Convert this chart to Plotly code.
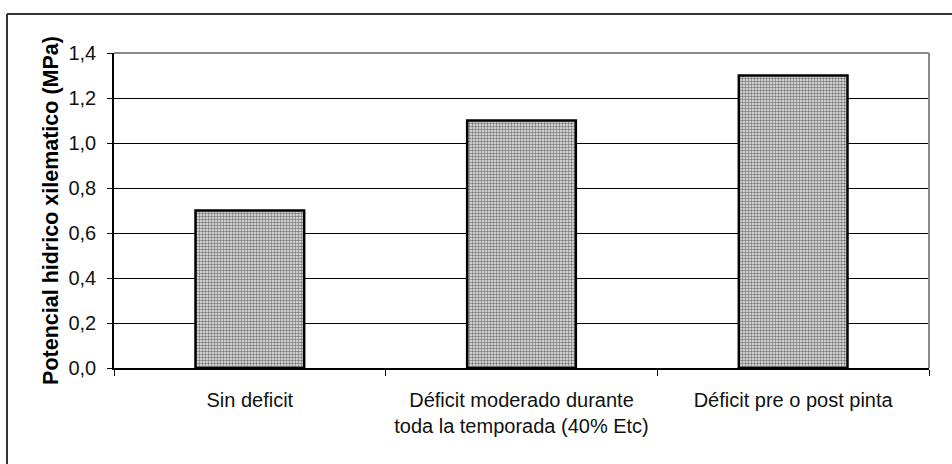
import plotly.graph_objects as go

# Tratamientos de riego y potencial hídrico xilemático medido
categorias = [
    "Sin deficit",
    "Déficit moderado durante<br>toda la temporada (40% Etc)",
    "Déficit pre o post pinta",
]
potencial_mpa = [0.7, 1.1, 1.3]
y_ticks = [0.0, 0.2, 0.4, 0.6, 0.8, 1.0, 1.2, 1.4]

fig = go.Figure(
    go.Bar(
        x=categorias,
        y=potencial_mpa,
        marker=dict(
            color="#c8c8c8",
            line=dict(color="#000000", width=2.5),
            pattern=dict(shape=".", fgcolor="#787878", bgcolor="#ececec",
                         size=3, solidity=0.5, fillmode="replace"),
        ),
        hoverinfo="x+y",
    )
)

fig.update_layout(
    width=952,
    height=464,
    margin=dict(l=114, r=23, t=53, b=96),
    paper_bgcolor="#ffffff",
    plot_bgcolor="#ffffff",
    separators=",.",
    bargap=0.6,
    showlegend=False,
    font=dict(family="Liberation Sans, Arial, sans-serif", size=19.5, color="#111111"),
)

fig.update_yaxes(
    range=[0, 1.4],
    tickvals=y_ticks,
    tickformat=".1f",
    showgrid=True,
    gridcolor="#000000",
    gridwidth=1,
    zeroline=False,
    showline=True,
    linecolor="#000000",
    linewidth=1.5,
    ticks="outside",
    ticklen=5,
    tickcolor="#000000",
    ticklabelstandoff=7,
    tickfont=dict(size=20),
    title=dict(
        text="<b>Potencial hidrico xilematico (MPa)</b>",
        font=dict(size=21.5, color="#000000"),
        standoff=4,
    ),
)

fig.update_xaxes(
    showgrid=False,
    showline=True,
    linecolor="#000000",
    linewidth=1.5,
    ticks="outside",
    tickson="boundaries",
    ticklen=6,
    tickcolor="#000000",
    ticklabelstandoff=13,
    tickfont=dict(size=20),
)

# Borde gris del área de trazado (arriba y a la derecha)
fig.add_shape(type="line", xref="paper", yref="paper", x0=0, x1=1, y0=1, y1=1,
              line=dict(color="#8a8a8a", width=2), layer="above")
fig.add_shape(type="line", xref="paper", yref="paper", x0=1, x1=1, y0=0, y1=1,
              line=dict(color="#8a8a8a", width=2), layer="above")

# Marco exterior del gráfico
fig.add_shape(type="line", xref="paper", yref="paper",
              x0=-0.1313, x1=1.05, y0=1.1238, y1=1.1238,
              line=dict(color="#333333", width=2))
fig.add_shape(type="line", xref="paper", yref="paper",
              x0=-0.1313, x1=-0.1313, y0=1.1238, y1=-0.35,
              line=dict(color="#333333", width=2))

fig.write_html("out.html")
